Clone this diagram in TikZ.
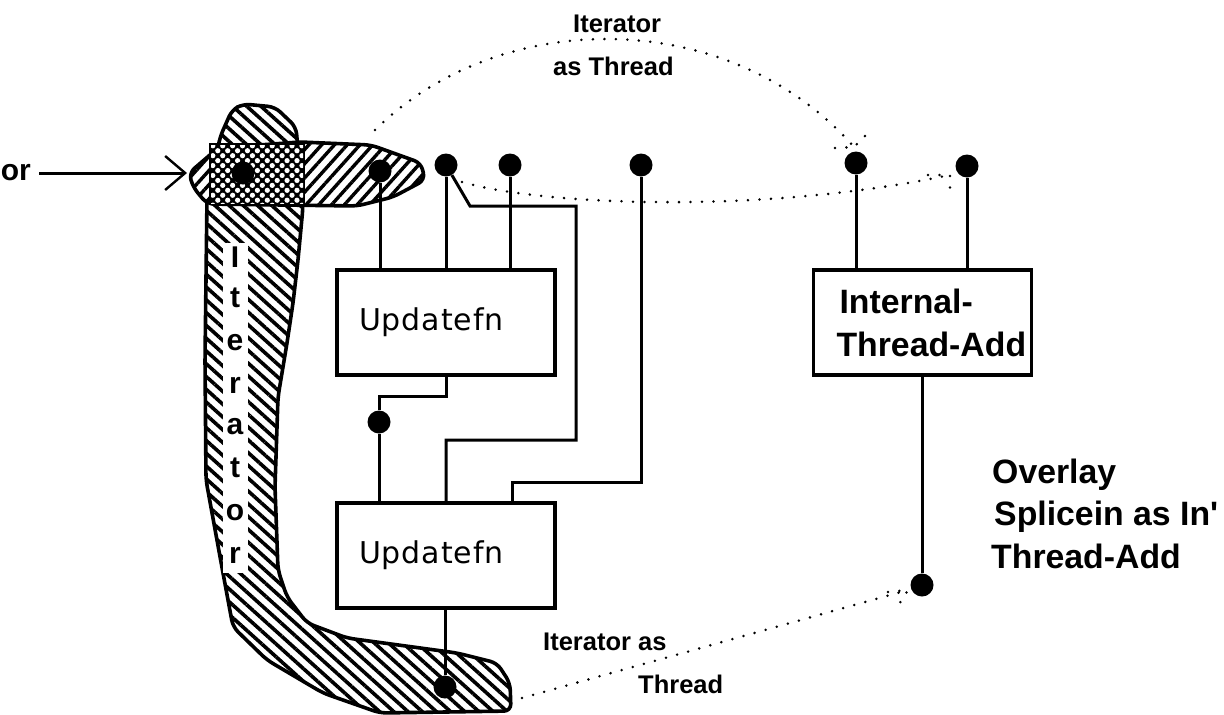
\documentclass[tikz,border=0pt]{standalone}
\usepackage{fontspec}
\setmainfont{Liberation Sans}
\newfontfamily\updatefont[LetterSpace=3]{DejaVu Sans}
\newfontfamily\plainfont{Liberation Sans}
\usepackage{tikz}
\usetikzlibrary{arrows.meta,patterns.meta,positioning}
\tikzset{
  box/.style={draw=black, line width=3.2pt, fill=white, inner xsep=0pt, inner ysep=0pt, minimum height=105pt, minimum width=218pt},
  updatebox/.style={box, inner xsep=22pt, text width=174pt, align=left, font=\updatefont\fontsize{30}{32}\selectfont},
  pin/.style={circle, fill=black, inner sep=0pt, minimum size=23pt},
  wire/.style={draw=black, line width=3pt},
  feed/.style={-{Straight Barb[length=20pt,width=34pt,line width=2.4pt]}, draw=black, line width=3pt},
  dots/.style={draw=black, line width=2.8pt, line cap=round, dash pattern=on 0pt off 11.5pt},
  bandv/.style={draw=black, line width=3.6pt, pattern={Lines[angle=-42,distance=9.5pt,line width=3.6pt]}},
  bandh/.style={draw=black, line width=3.6pt, fill=white, postaction={pattern={Lines[angle=48,distance=9.5pt,line width=3.4pt]}}},
  overlap/.style={draw=black, line width=3.6pt, fill=black, postaction={pattern={Dots[angle=45,distance=7pt,radius=2.6pt]}, pattern color=white}},
  lbl/.style={font=\fontsize{25.5}{28}\selectfont\bfseries, inner sep=0pt, anchor=base west},
  biglbl/.style={font=\plainfont\fontsize{33.8}{36}\selectfont\bfseries, inner sep=0pt, anchor=base west},
  vlet/.style={font=\fontsize{30}{32}\selectfont\bfseries, inner sep=0pt}
}
\begin{document}
\begin{tikzpicture}[x=1pt,y=-1pt]
  \useasboundingbox (0,0) rectangle (1224,715);
  % hatched regions
  \draw[bandv, rounded corners=7pt] (232,110) -- (243,104) -- (275,107) -- (296,127) -- (303,207) -- (298,260) -- (293,303) -- (287,343) -- (278,397) -- (275,487) -- (278,570) -- (287,597) -- (307,623) -- (347,638) -- (413,647) -- (457,653) -- (497,663) -- (510,683) -- (511,711) -- (380,713) -- (323,693) -- (267,660) -- (233,627) -- (223,573) -- (206,480) -- (205,360) -- (207,197) -- (218,148) -- (220,137) -- cycle;
  \fill[white] (223,243) -- (248,243) -- (248,573) -- (223,573) -- cycle;
  \draw[bandh, rounded corners=7pt] (189,173) -- (218,148) -- (300,142) -- (371,145) -- (421,163) -- (425,180) -- (393,197) -- (357,206) -- (207,204) -- (193,187) -- cycle;
  \node[overlap, minimum width=92pt, minimum height=58pt] (cross) at (257,174) {};

  \foreach \ltr/\yy/\nm in {I/257/a, t/298/b, e/343/c, r/385/d, a/427/e, t/468/f, o/513/g, r/555/h}
    \node[vlet] (let\nm) at (235,\yy) {\ltr};

  % boxes
  \node[updatebox] (upA) at (446,322.5) {Updatefn};
  \node[updatebox] (upB) at (446,555.5) {Updatefn};
  \node[box, text width=218pt, align=left, font=\fontsize{33.8}{43}\selectfont\bfseries] (add) at (922.5,322.5) {\hspace*{26pt}Internal-\\\hspace*{23pt}Thread-Add};

  % pins
  \node[pin] (p0) at (243,173) {};
  \node[pin] (p1) at (380,171) {};
  \node[pin] (p2) at (446,165) {};
  \node[pin] (p3) at (510,165) {};
  \node[pin] (p4) at (641,165) {};
  \node[pin] (p5) at (856,163) {};
  \node[pin] (p6) at (967,166) {};
  \node[pin] (p7) at (379,422) {};
  \node[pin] (p8) at (445,687) {};
  \node[pin] (p9) at (922,585) {};

  \draw[wire] (p1) -- (p1 |- upA.north);
  \draw[wire] (p2) -- (p2 |- upA.north);
  \draw[wire] (p3) -- (p3 |- upA.north);
  \draw[wire] (p5) -- (p5 |- add.north);
  \draw[wire] (p6) -- (p6 |- add.north);
  \draw[wire] (p9) -- (p9 |- add.south);
  \draw[wire] (p8) -- (p8 |- upB.south);
  \coordinate (tapA) at (446,396);
  \draw[wire] (upA.south -| tapA) -- (tapA) -- (tapA -| p7) -- (p7) -- (p7 |- upB.north);
  \coordinate (bendA) at (470,206);
  \coordinate (bendB) at (576,440);
  \draw[wire] (p2) -- (bendA) -- (bendA -| bendB) -- (bendB) -- (bendB -| p2) -- (p2 |- upB.north);
  \coordinate (bendC) at (512,482);
  \draw[wire] (p4) -- (p4 |- bendC) -- (bendC) -- (bendC |- upB.north);

  % left label
  \node[font=\fontsize{30}{32}\selectfont\bfseries, inner sep=0pt, anchor=base east] (iter) at (31,180) {or};
  \coordinate (feedstart) at (39,173);
  \coordinate (feedend) at (187,173);
  \draw[feed] (feedstart) -- (feedend);

  % dotted overlays
  \coordinate (d1s) at (375,130);
  \coordinate (d1e) at (854,147);
  \draw[dots] (d1s) .. controls (500,6) and (730,6) .. (d1e);
  \draw[dots] (835,148) -- (d1e) -- (866,135);
  \coordinate (d2s) at (462,182);
  \coordinate (d2e) at (950,175);
  \draw[dots] (d2s) .. controls (540,205) and (760,215) .. (d2e);
  \draw[dots] (928,175) -- (d2e) -- (950,197);
  \coordinate (d3s) at (522,698);
  \coordinate (d3e) at (908,590);
  \draw[dots] (d3s) -- (d3e);
  \draw[dots] (888,592) -- (d3e) -- (898,606);

  % labels
  \node[lbl] (t1) at (573,32) {Iterator};
  \node[lbl] (t2) at (553,75) {as Thread};
  \node[lbl] (t3) at (543,650) {Iterator as};
  \node[lbl] (t4) at (638,693) {Thread};
  \node[biglbl] (t5) at (992,483) {Overlay};
  \node[biglbl] (t6) at (994,525) {Splicein as In\symbol{39}};
  \node[biglbl] (t7) at (991,568) {Thread-Add};
\end{tikzpicture}
\end{document}
